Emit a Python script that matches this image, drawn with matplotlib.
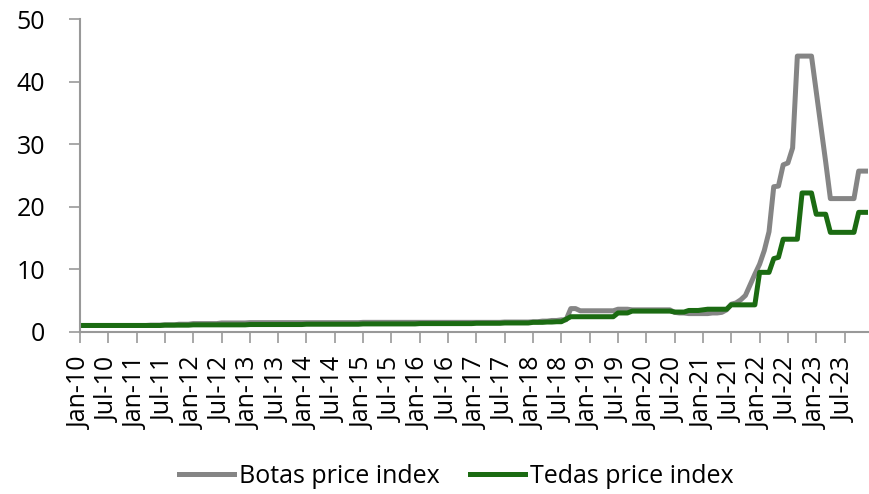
import numpy as np
import matplotlib.pyplot as plt
from matplotlib.ticker import MultipleLocator

plt.rcParams['font.family'] = ['Open Sans', 'DejaVu Sans']

# monthly index values, Jan-10 .. Dec-23 (one row per year)
botas = [
    1.0, 1.0, 1.0, 1.0, 1.0, 1.0, 1.0, 1.0, 1.0, 1.0, 1.0, 1.0,
    1.0, 1.0, 1.0, 1.05, 1.05, 1.05, 1.1, 1.1, 1.1, 1.2, 1.2, 1.2,
    1.3, 1.3, 1.3, 1.3, 1.3, 1.3, 1.4, 1.4, 1.4, 1.4, 1.4, 1.4,
    1.45, 1.45, 1.45, 1.45, 1.45, 1.45, 1.45, 1.45, 1.45, 1.45, 1.45, 1.45,
    1.45, 1.45, 1.45, 1.45, 1.45, 1.45, 1.45, 1.45, 1.45, 1.45, 1.45, 1.45,
    1.5, 1.5, 1.5, 1.5, 1.5, 1.5, 1.5, 1.5, 1.5, 1.5, 1.5, 1.5,
    1.5, 1.5, 1.5, 1.5, 1.5, 1.5, 1.5, 1.5, 1.5, 1.5, 1.5, 1.5,
    1.5, 1.5, 1.5, 1.5, 1.5, 1.5, 1.55, 1.55, 1.55, 1.55, 1.55, 1.55,
    1.6, 1.6, 1.7, 1.7, 1.8, 1.8, 1.9, 1.9, 3.7, 3.7, 3.35, 3.35,
    3.35, 3.35, 3.35, 3.35, 3.35, 3.35, 3.6, 3.6, 3.6, 3.5, 3.5, 3.5,
    3.5, 3.5, 3.5, 3.5, 3.5, 3.5, 3.1, 3.0, 3.0, 2.9, 2.9, 2.9,
    2.9, 2.9, 3.0, 3.0, 3.1, 3.5, 4.4, 4.6, 5.1, 5.8, 7.5, 9.2,
    10.8, 13.0, 16.0, 23.2, 23.3, 26.7, 27.0, 29.4, 44.1, 44.1, 44.1, 44.1,
    38.4, 32.8, 27.2, 21.3, 21.3, 21.3, 21.3, 21.3, 21.3, 25.7, 25.7, 25.7,
]
tedas = [
    1.0, 1.0, 1.0, 1.0, 1.0, 1.0, 1.0, 1.0, 1.0, 1.0, 1.0, 1.0,
    1.0, 1.0, 1.0, 1.0, 1.0, 1.0, 1.05, 1.05, 1.05, 1.05, 1.05, 1.05,
    1.1, 1.1, 1.1, 1.1, 1.1, 1.1, 1.1, 1.1, 1.1, 1.1, 1.1, 1.1,
    1.15, 1.15, 1.15, 1.15, 1.15, 1.15, 1.15, 1.15, 1.15, 1.15, 1.15, 1.15,
    1.2, 1.2, 1.2, 1.2, 1.2, 1.2, 1.2, 1.2, 1.2, 1.2, 1.2, 1.2,
    1.25, 1.25, 1.25, 1.25, 1.25, 1.25, 1.25, 1.25, 1.25, 1.25, 1.25, 1.25,
    1.3, 1.3, 1.3, 1.3, 1.3, 1.3, 1.3, 1.3, 1.3, 1.3, 1.3, 1.3,
    1.35, 1.35, 1.35, 1.35, 1.35, 1.35, 1.4, 1.4, 1.4, 1.4, 1.4, 1.4,
    1.5, 1.5, 1.5, 1.55, 1.55, 1.6, 1.6, 2.0, 2.4, 2.4, 2.4, 2.4,
    2.4, 2.4, 2.4, 2.4, 2.4, 2.4, 3.0, 3.0, 3.0, 3.3, 3.3, 3.3,
    3.3, 3.3, 3.3, 3.3, 3.3, 3.3, 3.15, 3.15, 3.15, 3.4, 3.4, 3.4,
    3.5, 3.6, 3.6, 3.6, 3.6, 3.6, 4.3, 4.3, 4.3, 4.3, 4.3, 4.3,
    9.5, 9.5, 9.5, 11.7, 11.9, 14.8, 14.8, 14.8, 14.8, 22.2, 22.2, 22.2,
    18.8, 18.8, 18.8, 15.9, 15.9, 15.9, 15.9, 15.9, 15.9, 19.1, 19.1, 19.1,
]
years = list(range(2010, 2024))
tick_labels = []
for y in years:
    tick_labels.append('Jan-%02d' % (y % 100))
    tick_labels.append('Jul-%02d' % (y % 100))

x = np.arange(len(botas))

fig = plt.figure(figsize=(8.69, 4.94), dpi=100)
ax = fig.add_axes([0.092, 0.3285, 0.907, 0.6326])

ax.plot(x, botas, color='#858585', lw=3.6, label='Botas price index')
ax.plot(x, tedas, color='#1b6b12', lw=3.6, label='Tedas price index')

ax.set_xlim(0, len(botas) - 1)
ax.set_ylim(0, 50)
ax.yaxis.set_major_locator(MultipleLocator(10))
ax.set_xticks(np.arange(0, len(botas), 6))
ax.set_xticklabels(tick_labels, rotation=90)

for s in ['top', 'right']:
    ax.spines[s].set_visible(False)
for s in ['left', 'bottom']:
    ax.spines[s].set_color('#999999')
    ax.spines[s].set_linewidth(1.5)

ax.tick_params(axis='both', color='#999999', width=1.2, length=8, labelsize=18)
ax.tick_params(axis='y', pad=17)
ax.tick_params(axis='x', pad=10)

fig.legend(loc='lower center', bbox_to_anchor=(0.525, -0.035), ncol=2, frameon=False,
           fontsize=18, handlelength=2.2, handletextpad=0.2, columnspacing=1.2)

fig.savefig('out.png', dpi=100)
